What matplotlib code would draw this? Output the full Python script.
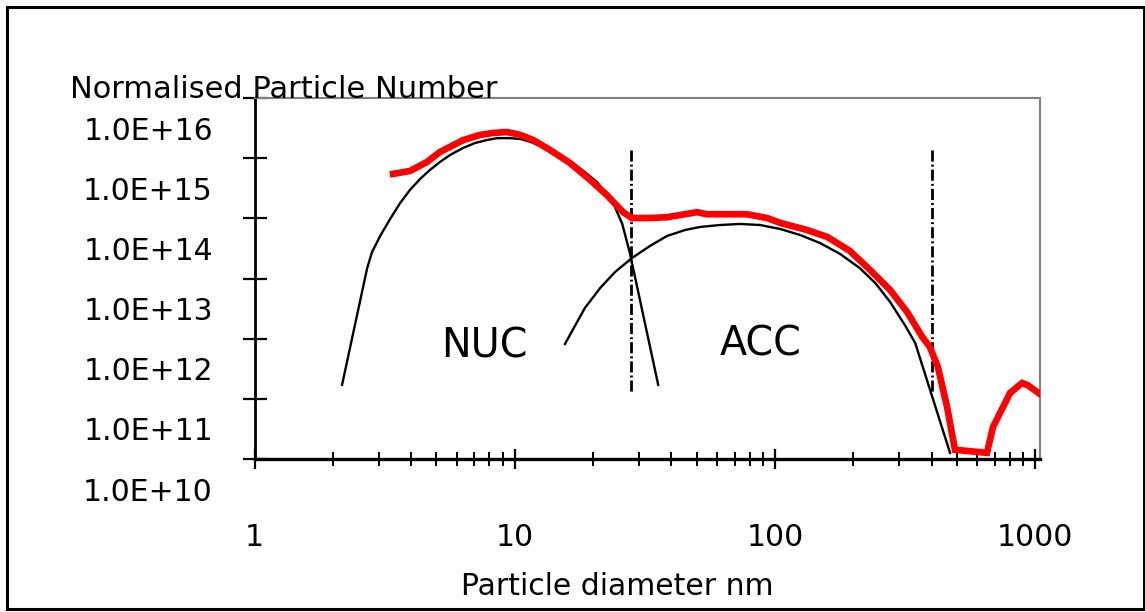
import numpy as np
import matplotlib
matplotlib.use("Agg")
import matplotlib.pyplot as plt
from matplotlib.ticker import FixedLocator, NullFormatter, FixedFormatter
from matplotlib.patches import Rectangle

plt.rcParams['font.family'] = ['DejaVu Sans']
plt.rcParams['lines.scale_dashes'] = False

# ---------------- data ----------------
red_x = [3.41, 3.96, 4.60, 5.16, 6.33, 7.36, 8.26, 9.34, 10.5, 11.8, 13.7, 16.3, 19.5, 22.6,
         26.1, 28.2, 33.1, 38.5, 50.2, 54.8, 78.1, 93.3, 105, 133, 159, 194, 232, 277, 322,
         368, 394, 423, 459, 492, 653, 689, 733, 801, 891, 939, 1030]
red_y = [1.73e15, 1.94e15, 2.73e15, 4.0e15, 6.3e15, 7.7e15, 8.3e15, 8.6e15, 7.7e15, 6.3e15,
         4.3e15, 2.63e15, 1.37e15, 7.7e14, 4.0e14, 3.2e14, 3.2e14, 3.3e14, 4.0e14, 3.7e14,
         3.7e14, 3.2e14, 2.65e14, 2.02e14, 1.55e14, 9.1e13, 4.4e13, 2.04e13, 8.8e12, 3.4e12,
         2.3e12, 1.07e12, 2.3e11, 4.5e10, 4.0e10, 1.08e11, 1.84e11, 3.95e11, 5.8e11, 5.3e11,
         3.95e11]

nuc_x = [2.17, 2.71, 2.83, 3.04, 3.32, 3.63, 3.96, 4.33, 4.72, 5.16, 5.64, 6.33, 7.04, 7.83,
         8.55, 9.6, 10.5, 11.5, 13.1, 14.3, 15.3, 17.1, 18.6, 20.7, 22.2, 23.9, 25.9, 27.7,
         35.6]
nuc_y = [5.4e11, 4.7e13, 8.7e13, 1.61e14, 3.08e14, 5.7e14, 9.4e14, 1.43e15, 2.01e15, 2.73e15,
         3.57e15, 4.67e15, 5.65e15, 6.34e15, 6.8e15, 6.8e15, 6.6e15, 5.9e15, 4.67e15, 3.85e15,
         3.3e15, 2.44e15, 1.86e15, 1.27e15, 8.7e14, 5.7e14, 2.55e14, 8.4e13, 5.4e11]

acc_x = [15.6, 17.1, 18.6, 21.3, 24.3, 28.2, 33.1, 38.5, 45.1, 51.5, 61.5, 73.4, 87.7, 105,
         125, 149, 178, 212, 243, 277, 316, 346, 471]
acc_y = [2.58e12, 5.3e12, 1.02e13, 2.2e13, 4.06e13, 6.9e13, 1.1e14, 1.61e14, 2.02e14, 2.27e14,
         2.45e14, 2.55e14, 2.45e14, 2.1e14, 1.67e14, 1.23e14, 8.1e13, 4.7e13, 2.66e13, 1.29e13,
         5.3e12, 2.68e12, 4.0e10]

boundary_x = [28, 400]
boundary_y = [4.3e15, 3.8e11]

x_ticks = [1, 10, 100, 1000]
x_ticklabels = ['1', '10', '100', '1000']
y_label_values = [1e11, 1e12, 1e13, 1e14, 1e15, 1e16]
y_ticklabels = ['1.0E+11', '1.0E+12', '1.0E+13', '1.0E+14', '1.0E+15', '1.0E+16']
y_bottom_label = '1.0E+10'
y_bottom_value = 1e10
y_mark_values = [10 ** 10.5, 10 ** 11.5, 10 ** 12.5, 10 ** 13.5, 10 ** 14.5, 10 ** 15.5, 10 ** 16.5]
x_minor = [m * d for d in (1, 10, 100) for m in range(2, 10)]

# ---------------- figure ----------------
W, H = 1145, 612
fig = plt.figure(figsize=(W / 100, H / 100), dpi=100)
L, R, T, B = 254.5, 1040, 98, 459
ax = fig.add_axes([L / W, 1 - B / H, (R - L) / W, (B - T) / H])
ax.set_xscale('log')
ax.set_yscale('log')
ax.set_xlim(1, 1044)
ax.set_ylim(10 ** 10.5, 10 ** 16.5)

# curves
ax.plot(nuc_x, nuc_y, color='black', lw=1.7, zorder=3)
ax.plot(acc_x, acc_y, color='black', lw=1.7, zorder=3)
ax.plot(red_x, red_y, color='#ff0000', lw=4.8, zorder=4, solid_joinstyle='miter')
for bx in boundary_x:
    ax.plot([bx, bx], boundary_y, color='black', lw=2.0,
            linestyle=(0, (8, 2.2, 1.4, 2.2)), zorder=2)

# texts
ax.text(7.65, 1.51e12, 'NUC', fontsize=28.5, ha='center', va='baseline')
ax.text(88.1, 1.69e12, 'ACC', fontsize=28.5, ha='center', va='baseline')

# spines
for s in ('top', 'right'):
    ax.spines[s].set_color('#808080')
    ax.spines[s].set_linewidth(1.5)
ax.spines['left'].set_color('black')
ax.spines['left'].set_linewidth(2.0)
ax.spines['bottom'].set_color('black')
ax.spines['bottom'].set_linewidth(2.4)

# x ticks
ax.xaxis.set_major_locator(FixedLocator(x_ticks))
ax.xaxis.set_major_formatter(FixedFormatter(x_ticklabels))
ax.xaxis.set_minor_locator(FixedLocator(x_minor))
ax.xaxis.set_minor_formatter(NullFormatter())
ax.tick_params(axis='x', which='major', direction='inout', length=15, width=1.6,
               pad=38.5, labelsize=21.5, colors='black')
ax.tick_params(axis='x', which='minor', direction='inout', length=10, width=1.4)

# y ticks: labels at decades, marks at half decades
ax.yaxis.set_major_locator(FixedLocator(y_label_values))
ax.yaxis.set_major_formatter(FixedFormatter(y_ticklabels))
ax.yaxis.set_minor_locator(FixedLocator(y_mark_values))
ax.yaxis.set_minor_formatter(NullFormatter())
ax.tick_params(axis='y', which='major', length=0, pad=30, labelsize=21.5, colors='black')
ax.tick_params(axis='y', which='minor', direction='inout', length=17, width=1.6)

ax.annotate(y_bottom_label, xy=(0, y_bottom_value), xycoords=('axes fraction', 'data'),
            xytext=(-30, 0), textcoords='offset points', ha='right', va='center_baseline',
            fontsize=21.5, annotation_clip=False)

# axis titles
fig.text(70 / W, 1 - 97.5 / H, 'Normalised Particle Number', fontsize=22,
         ha='left', va='baseline')
fig.text(617 / W, 1 - 595 / H, 'Particle diameter nm', fontsize=21.5,
         ha='center', va='baseline')

# outer frame
fig.add_artist(Rectangle((6.5 / W, 3 / H), (1143.5 - 6.5) / W, (609 - 6.5) / H,
                         transform=fig.transFigure, fill=False, ec='black', lw=2.2))

fig.savefig('out.png', dpi=100)
